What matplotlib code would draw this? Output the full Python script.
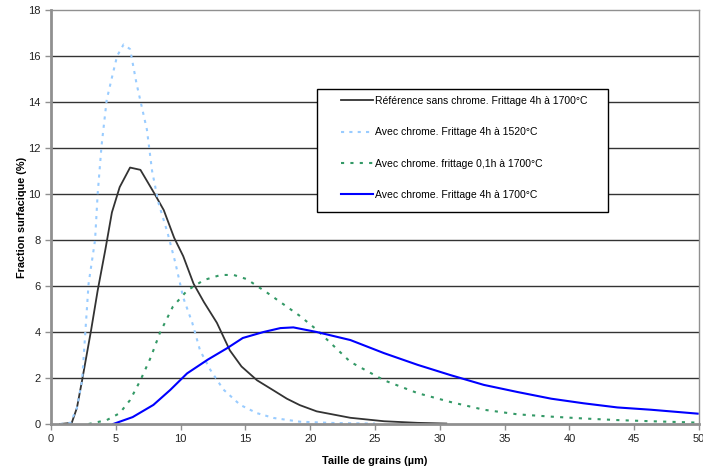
import matplotlib
matplotlib.use("Agg")
import matplotlib.pyplot as plt
from matplotlib.patches import Rectangle

plt.rcParams['font.family'] = ['Liberation Sans', 'DejaVu Sans']

# Référence sans chrome, 4h à 1700°C
x_ref = [0.7, 1.6, 2.0, 2.4, 3.1, 3.6, 4.2, 4.7, 5.3, 6.1, 6.9, 8.0, 8.7, 9.5, 10.2, 11.0,
         11.8, 12.8, 13.8, 14.7, 15.9, 17.2, 18.2, 19.2, 20.5, 23.1, 25.7, 28.3, 30.5]
y_ref = [0.0, 0.05, 0.7, 1.9, 4.1, 5.8, 7.6, 9.2, 10.3, 11.15, 11.05, 10.0, 9.3, 8.1, 7.3, 6.1,
         5.3, 4.4, 3.2, 2.5, 1.9, 1.45, 1.1, 0.82, 0.55, 0.27, 0.12, 0.05, 0.02]

# Avec chrome, 4h à 1520°C
x_1520 = [0.7, 1.5, 2.0, 2.4, 2.9, 3.4, 3.6, 3.9, 4.3, 4.8, 5.1, 5.6, 6.1, 6.6, 7.0, 7.4,
          7.8, 8.3, 9.0, 9.6, 10.2, 10.9, 11.5, 12.3, 13.3, 14.6, 15.9, 17.2, 19.2, 22.0, 25.0]
y_1520 = [0.0, 0.05, 0.7, 1.9, 6.1, 8.0, 10.0, 12.1, 14.1, 15.3, 16.0, 16.5, 16.3, 14.8, 13.8, 12.8,
          11.0, 9.6, 8.3, 7.0, 5.5, 4.4, 3.2, 2.35, 1.5, 0.83, 0.47, 0.26, 0.1, 0.04, 0.02]

# Avec chrome, frittage 0,1h à 1700°C
x_01h = [2.9, 4.3, 5.3, 6.1, 6.9, 7.7, 8.4, 9.4, 10.5, 11.8, 13.1, 14.1, 15.1, 16.7, 18.2,
         19.2, 20.5, 23.1, 25.7, 28.3, 30.8, 33.4, 36.0, 38.6, 41.1, 43.7, 46.3, 49.9]
y_01h = [0.0, 0.17, 0.47, 1.04, 1.9, 2.9, 3.96, 5.1, 5.8, 6.26, 6.48, 6.48, 6.3, 5.7, 5.1,
         4.7, 4.1, 2.7, 1.9, 1.34, 0.96, 0.62, 0.42, 0.32, 0.24, 0.17, 0.12, 0.06]

# Avec chrome, 4h à 1700°C
x_4h = [4.8, 6.3, 7.9, 9.2, 10.5, 12.1, 13.6, 14.8, 16.4, 17.7, 18.7, 20.5, 23.1, 25.7,
        28.3, 30.8, 33.4, 36.0, 38.6, 41.1, 43.7, 46.3, 49.9]
y_4h = [0.0, 0.3, 0.83, 1.48, 2.2, 2.8, 3.3, 3.74, 4.0, 4.17, 4.2, 4.0, 3.65, 3.08,
        2.57, 2.13, 1.7, 1.39, 1.1, 0.9, 0.72, 0.62, 0.45]

labels = ["Référence sans chrome. Frittage 4h à 1700°C",
          "Avec chrome. Frittage 4h à 1520°C",
          "Avec chrome. frittage 0,1h à 1700°C",
          "Avec chrome. Frittage 4h à 1700°C"]

fig = plt.figure(figsize=(7.03, 4.67), dpi=100)
ax = fig.add_axes([51/703, 1 - 424/467, 648/703, 414/467])

ax.plot(x_ref, y_ref, color="#333333", lw=1.3, label=labels[0])
ax.plot(x_1520, y_1520, color="#99ccff", lw=1.5, ls=(0, (1.5, 2.5)), label=labels[1])
ax.plot(x_01h, y_01h, color="#339966", lw=1.5, ls=(0, (1.5, 3)), label=labels[2])
ax.plot(x_4h, y_4h, color="#0000ff", lw=1.5, label=labels[3])

ax.set_xlim(0, 50)
ax.set_ylim(0, 18)
ax.set_xticks(range(0, 51, 5))
ax.set_yticks(range(0, 19, 2))
for yv in range(2, 18, 2):
    ax.axhline(yv, color="#333333", lw=1, zorder=0)

for s in ax.spines.values():
    s.set_color("#909090")
    s.set_linewidth(1)
ax.spines['left'].set_linewidth(2)
ax.spines['bottom'].set_linewidth(2)
ax.tick_params(colors="#909090", labelcolor="#222222", labelsize=8, length=4, width=1)

ax.set_xlabel("Taille de grains (µm)", fontsize=7.8, fontweight="bold", labelpad=8)
ax.set_ylabel("Fraction surfacique (%)", fontsize=7.8, fontweight="bold", labelpad=1)

# legend box
box = Rectangle(((317-51)/648, (424-212)/414), (608-317)/648, (212-89)/414,
                transform=ax.transAxes, facecolor="white", edgecolor="black",
                lw=1, zorder=4)
ax.add_patch(box)
leg = ax.legend(loc="upper left", bbox_to_anchor=((341-51)/648, (424-96)/414),
                frameon=False, fontsize=7.5, borderpad=0, borderaxespad=0,
                handlelength=3.1, handletextpad=0.2, labelspacing=2.05)
leg.set_zorder(5)

fig.savefig("out.png", dpi=100)
